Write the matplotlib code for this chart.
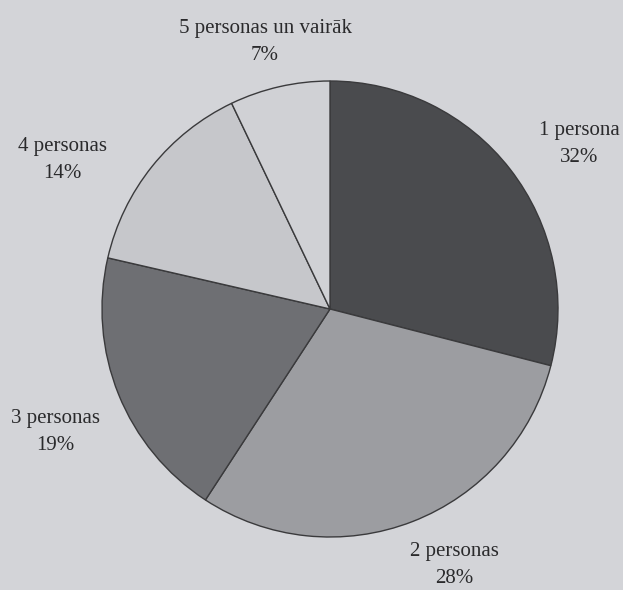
import matplotlib
matplotlib.use("Agg")
import matplotlib.pyplot as plt

labels = ["1 persona", "2 personas", "3 personas", "4 personas", "5 personas un vairāk"]
percents = [32, 28, 19, 14, 7]
# wedge sizes as drawn in the (scanned) picture
wedge_sizes = [29.0, 30.2, 19.4, 14.3, 7.1]
colors = ["#4a4b4e", "#9c9da1", "#6e6f73", "#c6c7cb", "#d0d1d5"]
label_pos = [(1.092, 0.724), (0.544, -1.122), (-1.206, -0.539), (-1.175, 0.654), (-0.285, 1.171)]

W, H = 623, 590
fig = plt.figure(figsize=(W / 100, H / 100), dpi=100, facecolor="#d3d4d8")
cx, cy, r = 330, 309, 228
ax = fig.add_axes([(cx - r) / W, (H - cy - r) / H, 2 * r / W, 2 * r / H])
ax.set_facecolor("none")
ax.pie(wedge_sizes, colors=colors, startangle=90, counterclock=False, radius=1,
       wedgeprops=dict(edgecolor="#3a3a3c", linewidth=1.0))
ax.set_xlim(-1, 1)
ax.set_ylim(-1, 1)
ax.set_aspect("equal")
ax.axis("off")

for lab, v, (x, y) in zip(labels, percents, label_pos):
    ax.text(x, y, f"{lab}\n{v}%", ha="center", va="center", fontsize=15,
            family="Liberation Serif", color="#2a2a2c", linespacing=1.6,
            clip_on=False)

fig.savefig("out.png", dpi=100, facecolor=fig.get_facecolor())
